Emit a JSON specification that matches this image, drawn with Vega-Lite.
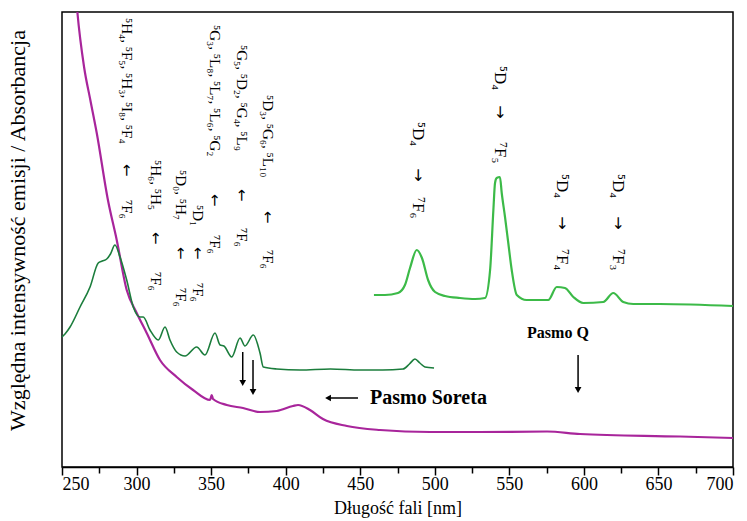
{
  "$schema": "https://vega.github.io/schema/vega-lite/v6.json",
  "width": 671,
  "height": 455,
  "autosize": "none",
  "padding": {"left": 62, "top": 12, "right": 14, "bottom": 54},
  "background": "white",
  "config": {
    "view": {"stroke": "black", "strokeWidth": 1.5},
    "font": "Liberation Serif, DejaVu Serif, serif",
    "text": {"font": "Liberation Serif, DejaVu Serif, serif", "color": "black"}
  },
  "encoding": {
    "x": {
      "field": "x", "type": "quantitative",
      "scale": {"domain": [250, 700], "nice": false, "zero": false},
      "axis": {
        "values": [250,275,300,325,350,375,400,425,450,475,500,525,550,575,600,625,650,675,700],
        "labelExpr": "datum.value % 50 === 0 ? datum.label : ''",
        "tickSize": {"condition": {"test": "datum.value % 50 === 0", "value": 8}, "value": 6},
        "tickColor": "black", "tickWidth": 1.5,
        "domainColor": "black", "domainWidth": 1.5,
        "labelFont": "Liberation Serif", "labelFontSize": 18, "labelColor": "black", "labelPadding": 0,
        "grid": false,
        "title": "Długość fali [nm]",
        "titleFont": "Liberation Serif", "titleFontSize": 18, "titleFontWeight": "normal", "titleColor": "black",
        "titlePadding": 6
      }
    },
    "y": {
      "field": "y", "type": "quantitative",
      "scale": {"domain": [0, 455], "nice": false, "zero": false},
      "axis": {
        "labels": false, "ticks": false, "domain": false, "grid": false,
        "title": "Względna intensywność emisji / Absorbancja",
        "titleFont": "Liberation Serif", "titleFontSize": 22, "titleFontWeight": "normal", "titleColor": "black",
        "titleX": -45, "titleY": 218, "titleBaseline": "middle", "titleAlign": "center", "titleAngle": -90
      }
    }
  },
  "layer": [
    {
      "data": {"values": [
        {"x": 257, "y": 520}, {"x": 260.3, "y": 455}, {"x": 264.8, "y": 400}, {"x": 269, "y": 367},
        {"x": 273.3, "y": 334}, {"x": 280.8, "y": 267}, {"x": 286.7, "y": 227}, {"x": 293.4, "y": 177},
        {"x": 300.1, "y": 154}, {"x": 306.8, "y": 134}, {"x": 315.7, "y": 107}, {"x": 326.9, "y": 90},
        {"x": 337.9, "y": 77}, {"x": 349.3, "y": 67}, {"x": 350.4, "y": 72}, {"x": 351.3, "y": 68},
        {"x": 360.5, "y": 62}, {"x": 371.4, "y": 59}, {"x": 382.8, "y": 55}, {"x": 394, "y": 56},
        {"x": 404.9, "y": 61}, {"x": 408.3, "y": 62}, {"x": 416.3, "y": 57}, {"x": 425, "y": 48},
        {"x": 441.1, "y": 41}, {"x": 463.3, "y": 37}, {"x": 496.8, "y": 35}, {"x": 530.3, "y": 35},
        {"x": 575.3, "y": 35.5}, {"x": 597.4, "y": 33}, {"x": 664.5, "y": 30.5}, {"x": 700, "y": 29}
      ]},
      "mark": {"type": "line", "color": "#a8259b", "strokeWidth": 2.2, "clip": true, "interpolate": "monotone"}
    },
    {
      "data": {"values": [
        {"x": 250, "y": 130}, {"x": 252, "y": 133}, {"x": 255.4, "y": 140}, {"x": 262.1, "y": 160},
        {"x": 268.8, "y": 180}, {"x": 274.3, "y": 204}, {"x": 277, "y": 206}, {"x": 280, "y": 208},
        {"x": 282.5, "y": 213}, {"x": 285.5, "y": 222}, {"x": 288.9, "y": 210}, {"x": 293.4, "y": 187},
        {"x": 297.8, "y": 160}, {"x": 302.3, "y": 150}, {"x": 304.5, "y": 150}, {"x": 309, "y": 137},
        {"x": 314.6, "y": 127}, {"x": 319.1, "y": 140}, {"x": 322.4, "y": 127}, {"x": 326.9, "y": 115},
        {"x": 332.5, "y": 111}, {"x": 340.3, "y": 120}, {"x": 345.9, "y": 112}, {"x": 352.6, "y": 134},
        {"x": 356, "y": 122}, {"x": 358.6, "y": 121}, {"x": 363.8, "y": 110}, {"x": 369.4, "y": 129},
        {"x": 372.7, "y": 121}, {"x": 378.3, "y": 132}, {"x": 382.8, "y": 114}, {"x": 385, "y": 100},
        {"x": 394, "y": 98}, {"x": 409.6, "y": 97}, {"x": 430, "y": 98}, {"x": 450, "y": 97},
        {"x": 465, "y": 97}, {"x": 478.7, "y": 98}, {"x": 483, "y": 103}, {"x": 486.7, "y": 108},
        {"x": 490, "y": 104}, {"x": 493.4, "y": 100}, {"x": 499.5, "y": 99}
      ]},
      "mark": {"type": "line", "color": "#1b7d3c", "strokeWidth": 1.6, "interpolate": "monotone"}
    },
    {
      "data": {"values": [
        {"x": 459.2, "y": 172}, {"x": 466.6, "y": 172}, {"x": 475.3, "y": 174}, {"x": 480, "y": 182},
        {"x": 483.4, "y": 199}, {"x": 487.9, "y": 217}, {"x": 491.4, "y": 209}, {"x": 495.5, "y": 187},
        {"x": 500.2, "y": 175}, {"x": 506.9, "y": 171}, {"x": 516.9, "y": 169}, {"x": 527, "y": 168},
        {"x": 533.7, "y": 169}, {"x": 537.1, "y": 197}, {"x": 539.3, "y": 257}, {"x": 540.4, "y": 284},
        {"x": 541.5, "y": 289}, {"x": 543.7, "y": 290}, {"x": 544.9, "y": 274}, {"x": 547.1, "y": 250},
        {"x": 549.3, "y": 224}, {"x": 551.6, "y": 197}, {"x": 555, "y": 172}, {"x": 561.6, "y": 167},
        {"x": 576.1, "y": 167}, {"x": 581.8, "y": 180}, {"x": 587.3, "y": 179}, {"x": 592.9, "y": 170},
        {"x": 599.6, "y": 164}, {"x": 613, "y": 165}, {"x": 619.7, "y": 174}, {"x": 626.4, "y": 165},
        {"x": 633.1, "y": 163}, {"x": 651, "y": 163}, {"x": 700, "y": 161}
      ]},
      "mark": {"type": "line", "color": "#3cba48", "strokeWidth": 2.2, "interpolate": "monotone"}
    },
    {
      "data": {"values": [
        {"x": 293.6, "y": 449, "t": "⁵H₄, ⁵F₅, ⁵H₃, ⁵I₈, ⁵F₄"},
        {"x": 293.6, "y": 267, "t": "⁷F₆"},
        {"x": 313.0, "y": 307, "t": "⁵H₆, ⁵H₅"},
        {"x": 313.0, "y": 195, "t": "⁷F₆"},
        {"x": 329.8, "y": 297, "t": "⁵D₀, ⁵H₇"},
        {"x": 329.8, "y": 179, "t": "⁷F₆"},
        {"x": 341.2, "y": 262, "t": "⁵D₁"},
        {"x": 341.2, "y": 184, "t": "⁷F₆"},
        {"x": 352.6, "y": 442, "t": "⁵G₃, ⁵L₈, ⁵L₇, ⁵L₆, ⁵G₂"},
        {"x": 352.6, "y": 232, "t": "⁷F₆"},
        {"x": 370.7, "y": 422, "t": "⁵G₅, ⁵D₂, ⁵G₄, ⁵L₉"},
        {"x": 370.7, "y": 239, "t": "⁷F₆"},
        {"x": 388.2, "y": 372, "t": "⁵D₃, ⁵G₆, ⁵L₁₀"},
        {"x": 388.2, "y": 217, "t": "⁷F₆"}
      ]},
      "mark": {"type": "text", "angle": 90, "align": "left", "baseline": "middle", "fontSize": 15, "color": "black"},
      "encoding": {"text": {"field": "t"}}
    },
    {
      "data": {"values": [
        {"x": 293.6, "y": 297}, {"x": 313.0, "y": 229}, {"x": 329.8, "y": 214},
        {"x": 341.2, "y": 214}, {"x": 352.6, "y": 267}, {"x": 370.7, "y": 272}, {"x": 388.2, "y": 250}
      ]},
      "mark": {"type": "text", "angle": 90, "align": "center", "baseline": "middle", "fontSize": 15, "font": "DejaVu Sans", "color": "black", "text": "←"}
    },
    {
      "data": {"values": [
        {"x": 488.7, "y": 345, "t": "⁵D₄"}, {"x": 488.7, "y": 270, "t": "⁷F₆"},
        {"x": 543.7, "y": 401, "t": "⁵D₄"}, {"x": 543.7, "y": 325, "t": "⁷F₅"},
        {"x": 585.3, "y": 293, "t": "⁵D₄"}, {"x": 585.3, "y": 218, "t": "⁷F₄"},
        {"x": 622.9, "y": 293, "t": "⁵D₄"}, {"x": 622.9, "y": 218, "t": "⁷F₃"}
      ]},
      "mark": {"type": "text", "angle": 90, "align": "left", "baseline": "middle", "fontSize": 17, "color": "black"},
      "encoding": {"text": {"field": "t"}}
    },
    {
      "data": {"values": [
        {"x": 488.7, "y": 292}, {"x": 543.7, "y": 355}, {"x": 585.3, "y": 244}, {"x": 622.9, "y": 244}
      ]},
      "mark": {"type": "text", "angle": 90, "align": "center", "baseline": "middle", "fontSize": 16, "font": "DejaVu Sans", "color": "black", "text": "→"}
    },
    {
      "data": {"values": [
        {"x": 371.2, "y": 115, "x2": 371.2, "y2": 86},
        {"x": 378.1, "y": 107, "x2": 378.1, "y2": 77},
        {"x": 429.7, "y": 69, "x2": 448.5, "y2": 69},
        {"x": 596.1, "y": 112, "x2": 596.1, "y2": 79}
      ]},
      "mark": {"type": "rule", "color": "black", "strokeWidth": 1.5},
      "encoding": {"x2": {"field": "x2"}, "y2": {"field": "y2"}}
    },
    {
      "data": {"values": [
        {"x": 371.2, "y": 84, "s": "triangle-down"},
        {"x": 378.1, "y": 75, "s": "triangle-down"},
        {"x": 596.1, "y": 77, "s": "triangle-down"},
        {"x": 428.4, "y": 69, "s": "triangle-left"}
      ]},
      "mark": {"type": "point", "filled": true, "color": "black", "opacity": 1, "size": 45},
      "encoding": {"shape": {"field": "s", "type": "nominal", "scale": null}}
    },
    {
      "data": {"values": [{"x": 456.6, "y": 69, "t": "Pasmo Soreta"}]},
      "mark": {"type": "text", "align": "left", "baseline": "middle", "fontSize": 20, "fontWeight": "bold", "color": "black"},
      "encoding": {"text": {"field": "t"}}
    },
    {
      "data": {"values": [{"x": 561.9, "y": 134, "t": "Pasmo Q"}]},
      "mark": {"type": "text", "align": "left", "baseline": "middle", "fontSize": 16, "fontWeight": "bold", "color": "black"},
      "encoding": {"text": {"field": "t"}}
    }
  ]
}
